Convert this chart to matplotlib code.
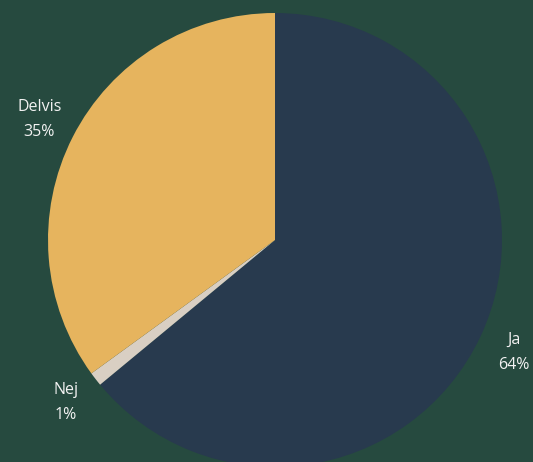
import matplotlib
matplotlib.use("Agg")
import matplotlib.pyplot as plt

labels = ["Ja", "Nej", "Delvis"]
values = [64, 1, 35]
colors = ["#283a4e", "#d9cfc3", "#e6b45e"]
bg = "#264a3f"

fig = plt.figure(figsize=(5.33, 4.62), dpi=100)
fig.patch.set_facecolor(bg)
ax = fig.add_axes([0, 0, 1, 1])
ax.set_facecolor(bg)

texts = [f"{l}\n{v}%" for l, v in zip(labels, values)]
ax.pie(values, labels=texts, colors=colors, startangle=90, counterclock=False,
       labeldistance=1.165, radius=1.0,
       textprops=dict(color="#f2f2f2", fontsize=11.5, family="Open Sans",
                      ha="center", va="center", linespacing=1.75))

r = 227.0
ax.set_xlim(-275 / r, (533 - 275) / r)
ax.set_ylim(-(462 - 240) / r, 240 / r)
ax.set_aspect("equal")
ax.axis("off")

fig.savefig("out.png", dpi=100, facecolor=bg)
